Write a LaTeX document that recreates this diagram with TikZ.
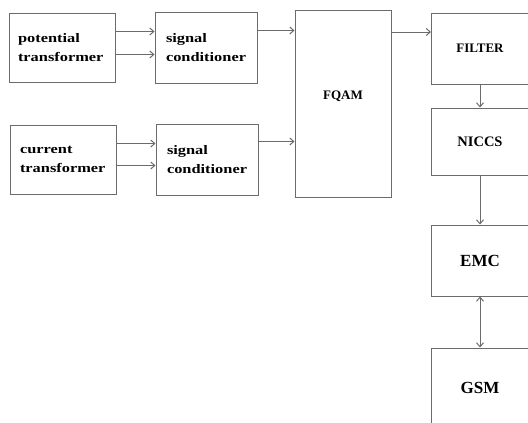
\documentclass[tikz,border=0pt]{standalone}
\usepackage{fontspec}
\setmainfont{Liberation Serif}
\newfontfamily\widefont[FakeStretch=1.26]{Liberation Serif}
\usetikzlibrary{positioning, arrows.meta}
\definecolor{linegray}{rgb}{0.42,0.42,0.42}
\tikzset{
	blk/.style = {draw=linegray, line width=1pt, inner sep=0pt},
	txtblk/.style = {blk, align=left, font=\widefont\bfseries\fontsize{13}{19.5}\selectfont},
	capblk/.style = {blk, minimum width=97, font=\bfseries},
	conn/.style = {draw=linegray, line width=1pt, ->}
}
\begin{document}
\begin{tikzpicture}[x=1pt, y=-1pt, >={Straight Barb[length=4pt, width=7pt]}]
\clip[use as bounding box] (0,0) rectangle (528,423);

% NODES
% inputs
\node (pt) [txtblk, minimum height=69, text width=88pt, inner xsep=9pt] at (62,47.5) {potential\\transformer};
\node (ct) [txtblk, minimum height=69, text width=86pt, inner xsep=10pt] at (63,159.5) {current\\transformer};
% conditioners
\node (sc1) [txtblk, minimum height=71, text width=80pt, inner xsep=11pt] at (206,47.5) {signal\\conditioner};
\node (sc2) [txtblk, minimum height=71, text width=80pt, inner xsep=11pt] at (207,159.5) {signal\\conditioner};
% modulator
\node (fqam) [blk, minimum width=96, minimum height=187, text height=9pt, text depth=18pt, font=\bfseries\fontsize{13}{15}\selectfont] at (343,103.5) {FQAM};
% right column
\node (filter) [capblk, minimum height=71, font=\bfseries\fontsize{13}{15}\selectfont] at (480,48.5) {FILTER};
\node (niccs) [capblk, minimum height=67, font=\bfseries\fontsize{14.5}{17}\selectfont, below=23pt of filter] {NICCS};
\node (emc) [capblk, minimum height=71, font=\bfseries\fontsize{17}{20}\selectfont, below=49pt of niccs] {EMC};
\node (gsm) [capblk, minimum height=80, font=\bfseries\fontsize{17}{20}\selectfont, below=51pt of emc] {GSM};

%CONNECTIONS
\draw[conn] ([yshift=16pt]pt.east) -- ([yshift=16pt]pt.east -| sc1.west);
\draw[conn] ([yshift=-7pt]pt.east) -- ([yshift=-7pt]pt.east -| sc1.west);
\draw[conn] ([yshift=16pt]ct.east) -- ([yshift=16pt]ct.east -| sc2.west);
\draw[conn] ([yshift=-6pt]ct.east) -- ([yshift=-6pt]ct.east -| sc2.west);
\draw[conn] ([yshift=17pt]sc1.east) -- ([yshift=17pt]sc1.east -| fqam.west);
\draw[conn] ([yshift=18pt]sc2.east) -- ([yshift=18pt]sc2.east -| fqam.west);
\draw[conn] ([yshift=16.5pt]filter.west -| fqam.east) -- ([yshift=16.5pt]filter.west);
\draw[conn] (filter.south) -- (niccs.north);
\draw[conn] (niccs.south) -- (emc.north);
\draw[conn, <->] (emc.south) -- (gsm.north);

\end{tikzpicture}
\end{document}
